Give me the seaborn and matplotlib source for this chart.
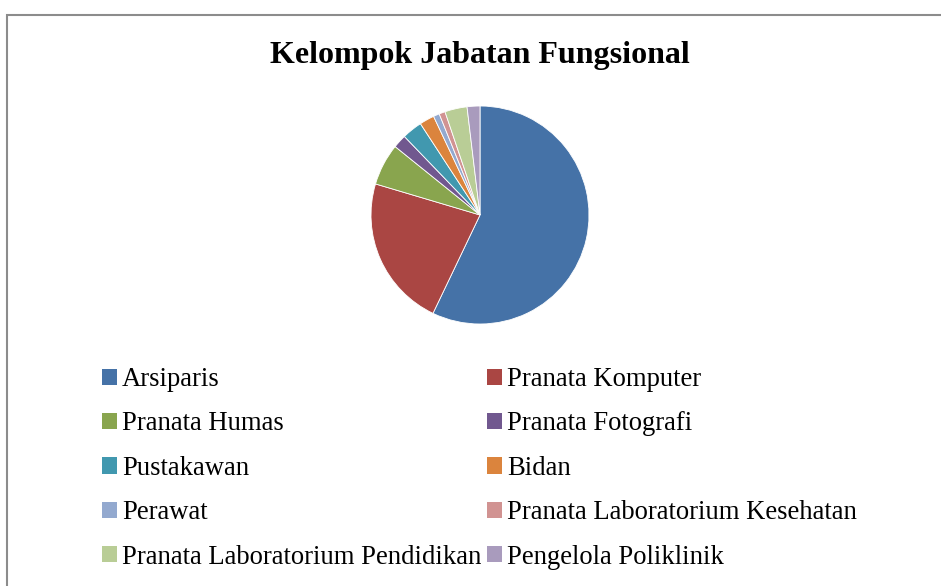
import matplotlib
matplotlib.use('Agg')
from matplotlib import pyplot as plt
from matplotlib.patches import Patch, Rectangle
import seaborn as sns

# %% Data
categories = [
    'Arsiparis', 'Pranata Komputer', 'Pranata Humas', 'Pranata Fotografi',
    'Pustakawan', 'Bidan', 'Perawat', 'Pranata Laboratorium Kesehatan',
    'Pranata Laboratorium Pendidikan', 'Pengelola Poliklinik',
]
shares = [57.1, 22.5, 6.2, 2.0, 3.0, 2.2, 0.9, 0.9, 3.3, 1.9]
title = 'Kelompok Jabatan Fungsional'

# %% Style
sns.set_theme(style='white')
plt.rcParams['font.family'] = ['Liberation Serif', 'DejaVu Serif']
plt.rcParams['text.color'] = 'black'
palette = sns.color_palette([
    '#4572A7', '#AA4643', '#89A54E', '#71588F', '#4198AF',
    '#DB843D', '#93A9CF', '#D19392', '#B9CD96', '#A99BBD',
])

W, H = 941, 586
fig = plt.figure(figsize=(W / 100, H / 100), dpi=100)

# chart border (open at right and bottom like the cropped original)
fig.patches.append(Rectangle((7 / W, -0.1), 1.2, (H - 15) / H + 0.1,
                             transform=fig.transFigure, fill=False,
                             edgecolor='#8c8c8c', linewidth=1.5))

fig.text(480 / W, 1 - 56 / H, title, ha='center', va='center',
         fontsize=23, fontweight='bold', color='black')

# %% Pie
ax = fig.add_axes([371 / W, (H - 324) / H, 218 / W, 218 / H])
ax.pie(shares, colors=palette, startangle=90, counterclock=False,
       radius=1.0, wedgeprops={'linewidth': 0.6, 'edgecolor': 'white'})
ax.set_aspect('equal')
ax.set_xlim(-1, 1)
ax.set_ylim(-1, 1)
ax.axis('off')

# %% Legend (row-wise order in two columns)
handles = [Patch(facecolor=c, edgecolor='none') for c in palette]
order = list(range(0, len(categories), 2)) + list(range(1, len(categories), 2))
fig.legend([handles[i] for i in order], [categories[i] for i in order],
           ncol=2, loc='upper left',
           bbox_to_anchor=(102 / W, 1 - 367 / H), frameon=False,
           fontsize=19.2, handlelength=0.55, handleheight=0.55,
           handletextpad=0.2, columnspacing=0.22, labelspacing=0.73,
           borderpad=0, borderaxespad=0)

fig.savefig('out.png', dpi=100)
